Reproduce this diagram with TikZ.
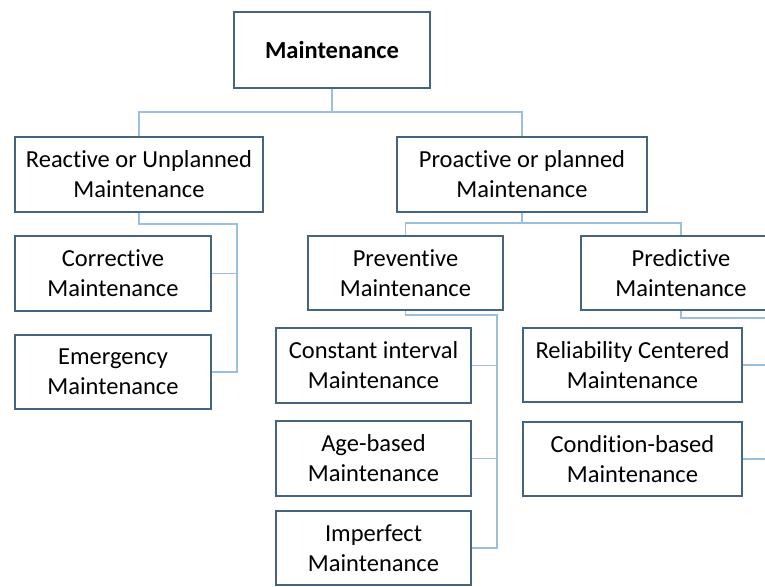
\documentclass[tikz,border=0pt]{standalone}
\usepackage{fontspec}
\setmainfont[Ligatures={NoCommon,NoDiscretionary}]{Carlito}
\definecolor{boxline}{HTML}{44647F}
\definecolor{linkline}{HTML}{9CBFDD}
\begin{document}
\begin{tikzpicture}[x=1pt,y=-1pt,
  box/.style={draw=boxline,line width=1.4pt,fill=white,rectangle,align=center,
    inner sep=0pt,font=\fontsize{24.5}{30}\selectfont,text=black},
  link/.style={draw=linkline,line width=1.2pt}]
\useasboundingbox (0,0) rectangle (765,586);
\fill[white] (0,0) rectangle (765,586);
\clip (0,0) rectangle (765,586);

% boxes
\node[box,minimum width=196pt,minimum height=76pt,font=\fontsize{24.5}{30}\selectfont\bfseries] (top) at (332,50) {Maintenance};
\node[box,minimum width=248pt,minimum height=75pt] (reactive) at (139,174.5) {Reactive or Unplanned\\Maintenance};
\node[box,minimum width=250pt,minimum height=75pt] (proactive) at (522,174.5) {Proactive or planned\\Maintenance};
\node[box,minimum width=196pt,minimum height=75pt] (corrective) at (113,273.5) {Corrective\\Maintenance};
\node[box,minimum width=196pt,minimum height=74pt] (emergency) at (113,372) {Emergency\\Maintenance};
\node[box,minimum width=195pt,minimum height=74pt] (preventive) at (405.5,273) {Preventive\\Maintenance};
\node[box,minimum width=200pt,minimum height=74pt] (predictive) at (681,273) {Predictive\\Maintenance};
\node[box,minimum width=195pt,minimum height=75pt] (constant) at (373.5,365.5) {Constant interval\\Maintenance};
\node[box,minimum width=195pt,minimum height=75pt] (age) at (373.5,458.5) {Age-based\\Maintenance};
\node[box,minimum width=195pt,minimum height=74pt] (imperfect) at (373.5,548) {Imperfect\\Maintenance};
\node[box,minimum width=219pt,minimum height=74pt] (reliability) at (632.5,365) {Reliability Centered\\Maintenance};
\node[box,minimum width=219pt,minimum height=74pt] (condition) at (632.5,459) {Condition-based\\Maintenance};

% bus points of the tree
\coordinate (b0) at (332,112);
\coordinate (b1) at (237,224);
\coordinate (b2) at (522,223);
\coordinate (b3) at (497,315);
\coordinate (b4) at (776,318);

% connectors
\draw[link] (top.south) -- (b0);
\draw[link] (b0) -| (reactive.north);
\draw[link] (b0) -| (proactive.north);

\draw[link] (reactive.south) |- (b1) |- (emergency.east);
\draw[link] (b1 |- corrective.east) -- (corrective.east);

\draw[link] (proactive.south) -- (b2);
\draw[link] (b2) -| (preventive.north);
\draw[link] (b2) -| (predictive.north);

\draw[link] (preventive.south) |- (b3) |- (imperfect.east);
\draw[link] (b3 |- constant.east) -- (constant.east);
\draw[link] (b3 |- age.east) -- (age.east);

\draw[link] (predictive.south) |- (b4) |- (condition.east);
\draw[link] (b4 |- reliability.east) -- (reliability.east);
\end{tikzpicture}
\end{document}
